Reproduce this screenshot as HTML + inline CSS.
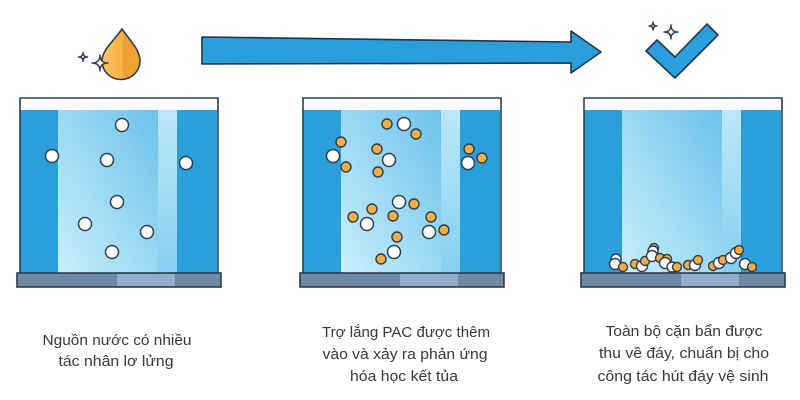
<!DOCTYPE html>
<html>
<head>
<meta charset="utf-8">
<style>
  html,body{margin:0;padding:0;background:#fff;}
  body{width:800px;height:400px;overflow:hidden;}
  svg{display:block;}
  text{font-family:"Liberation Sans","Noto Sans CJK SC",sans-serif;fill:#383838;font-size:15px;}
</style>
</head>
<body>
<svg width="800" height="400" viewBox="0 0 800 400" xmlns="http://www.w3.org/2000/svg">
  <defs>
    <linearGradient id="mid" x1="0" y1="1" x2="1" y2="0">
      <stop offset="0" stop-color="#C9EFFC"/>
      <stop offset="1" stop-color="#6CC2EA"/>
    </linearGradient>
    <linearGradient id="band" x1="0" y1="0" x2="0" y2="1">
      <stop offset="0" stop-color="#BCE8F9"/>
      <stop offset="1" stop-color="#86CFEF"/>
    </linearGradient>
    <linearGradient id="drop" x1="0" y1="0" x2="1" y2="0">
      <stop offset="0" stop-color="#FCC565"/>
      <stop offset="0.55" stop-color="#F7B243"/>
      <stop offset="0.56" stop-color="#EFA133"/>
      <stop offset="1" stop-color="#EFA133"/>
    </linearGradient>
    <g id="tank">
      <rect x="20" y="110" width="38" height="163" fill="#2A9FDA"/>
      <rect x="58" y="110" width="100" height="163" fill="url(#mid)"/>
      <rect x="158" y="110" width="19" height="163" fill="url(#band)"/>
      <rect x="177" y="110" width="40" height="163" fill="#2A9FDA"/>
      <path d="M20,273 L20,98 L218,98 L218,273" fill="none" stroke="#2E3D4F" stroke-width="1.6"/>
      <rect x="17" y="273" width="204" height="14" fill="#6E8AA6" stroke="#2E3D4F" stroke-width="1.6"/>
      <rect x="117" y="274" width="58" height="12" fill="#93AECB"/>
    </g>
  </defs>

  <!-- Arrow -->
  <polygon points="202,37 571,42 571,31 601,52 571,73 571,63 202,64" fill="#2A9FDA" stroke="#1F3550" stroke-width="1.6" stroke-linejoin="round"/>

  <!-- Drop + sparkles -->
  <path d="M122,29 C113,42 102,50 102,61 A19,18.5 0 0 0 140,61 C140,50 131,42 122,29 Z" fill="url(#drop)" stroke="#2E3D4F" stroke-width="1.6"/>
  <path d="M83,52.5 Q83,57 87.5,57 Q83,57 83,61.5 Q83,57 78.5,57 Q83,57 83,52.5 Z" fill="#fff" stroke="#2E3D4F" stroke-width="1.4" stroke-linejoin="round"/>
  <path d="M100,55 Q100,63 108,63 Q100,63 100,71 Q100,63 92,63 Q100,63 100,55 Z" fill="#fff" stroke="#2E3D4F" stroke-width="1.4" stroke-linejoin="round"/>

  <!-- Checkmark + sparkles -->
  <polygon points="646,51 657,40 675,57 707,24 718,35 675,78" fill="#2A9FDA" stroke="#1F3550" stroke-width="1.6" stroke-linejoin="round"/>
  <path d="M653,22 Q653,26 657,26 Q653,26 653,30 Q653,26 649,26 Q653,26 653,22 Z" fill="#fff" stroke="#2E3D4F" stroke-width="1.4" stroke-linejoin="round"/>
  <path d="M671,25 Q671,32 678,32 Q671,32 671,39 Q671,32 664,32 Q671,32 671,25 Z" fill="#fff" stroke="#2E3D4F" stroke-width="1.4" stroke-linejoin="round"/>

  <!-- Tanks -->
  <use href="#tank"/>
  <use href="#tank" transform="translate(283,0)"/>
  <use href="#tank" transform="translate(564,0)"/>

  <!-- Tank 1 bubbles -->
  <g fill="#fff" stroke="#2E3D4F" stroke-width="1.5">
    <circle cx="122" cy="125" r="6.5"/>
    <circle cx="52" cy="156" r="6.5"/>
    <circle cx="107" cy="160" r="6.5"/>
    <circle cx="186" cy="163" r="6.5"/>
    <circle cx="117" cy="202" r="6.5"/>
    <circle cx="85" cy="224" r="6.5"/>
    <circle cx="147" cy="232" r="6.5"/>
    <circle cx="112" cy="252" r="6.5"/>
  </g>

  <!-- Tank 2 particles -->
  <g fill="#F2B044" stroke="#2E3D4F" stroke-width="1.4">
    <circle cx="387" cy="124" r="5"/>
    <circle cx="416" cy="134" r="5"/>
    <circle cx="341" cy="142" r="5"/>
    <circle cx="346" cy="167" r="5"/>
    <circle cx="377" cy="149" r="5"/>
    <circle cx="378" cy="172" r="5"/>
    <circle cx="469" cy="149" r="5"/>
    <circle cx="482" cy="158" r="5"/>
    <circle cx="414" cy="204" r="5"/>
    <circle cx="372" cy="209" r="5"/>
    <circle cx="353" cy="217" r="5"/>
    <circle cx="393" cy="216" r="5"/>
    <circle cx="431" cy="217" r="5"/>
    <circle cx="444" cy="230" r="5"/>
    <circle cx="397" cy="237" r="5"/>
    <circle cx="381" cy="259" r="5"/>
  </g>
  <g fill="#fff" stroke="#2E3D4F" stroke-width="1.5">
    <circle cx="404" cy="124" r="6.5"/>
    <circle cx="333" cy="156" r="6.5"/>
    <circle cx="389" cy="160" r="6.5"/>
    <circle cx="468" cy="163" r="6.5"/>
    <circle cx="399" cy="202" r="6.5"/>
    <circle cx="367" cy="224" r="6.5"/>
    <circle cx="429" cy="232" r="6.5"/>
    <circle cx="394" cy="252" r="6.5"/>
  </g>

  <!-- Tank 3 sediment -->
  <g stroke="#2E3D4F" stroke-width="1.4">
    <circle cx="616" cy="259" r="5" fill="#fff"/>
    <circle cx="615" cy="264" r="5.5" fill="#fff"/>
    <circle cx="623" cy="267" r="4.5" fill="#F2B044"/>
    <circle cx="635" cy="264" r="4.5" fill="#F2B044"/>
    <circle cx="642" cy="266" r="5.5" fill="#fff"/>
    <circle cx="645" cy="261" r="4.5" fill="#F2B044"/>
    <circle cx="654" cy="248" r="4.5" fill="#F2B044"/>
    <circle cx="653" cy="251" r="5" fill="#fff"/>
    <circle cx="652" cy="256" r="5.5" fill="#fff"/>
    <circle cx="660" cy="258" r="4.5" fill="#F2B044"/>
    <circle cx="667" cy="259" r="4.5" fill="#F2B044"/>
    <circle cx="665" cy="263" r="5.5" fill="#fff"/>
    <circle cx="672" cy="267" r="5" fill="#fff"/>
    <circle cx="677" cy="267" r="4.5" fill="#F2B044"/>
    <circle cx="688" cy="265" r="4.5" fill="#F2B044"/>
    <circle cx="695" cy="265" r="5.5" fill="#fff"/>
    <circle cx="698" cy="260" r="4.5" fill="#F2B044"/>
    <circle cx="713" cy="266" r="4.5" fill="#F2B044"/>
    <circle cx="719" cy="263" r="5.5" fill="#fff"/>
    <circle cx="723" cy="260" r="4.5" fill="#F2B044"/>
    <circle cx="731" cy="258" r="5.5" fill="#fff"/>
    <circle cx="736" cy="253" r="5.5" fill="#fff"/>
    <circle cx="739" cy="250" r="4.5" fill="#F2B044"/>
    <circle cx="745" cy="264" r="5.5" fill="#fff"/>
    <circle cx="752" cy="267" r="4.5" fill="#F2B044"/>
  </g>

  <!-- Labels -->
  <text x="117" y="345" text-anchor="middle" textLength="149" lengthAdjust="spacingAndGlyphs">Nguồn nước có nhiều</text>
  <text x="116" y="366" text-anchor="middle" textLength="115" lengthAdjust="spacingAndGlyphs">tác nhân lơ lửng</text>

  <text x="406" y="337" text-anchor="middle" textLength="168" lengthAdjust="spacingAndGlyphs">Trợ lắng PAC được thêm</text>
  <text x="405" y="359" text-anchor="middle" textLength="165" lengthAdjust="spacingAndGlyphs">vào và xảy ra phản ứng</text>
  <text x="404" y="381" text-anchor="middle" textLength="108" lengthAdjust="spacingAndGlyphs">hóa học kết tủa</text>

  <text x="684" y="336" text-anchor="middle" textLength="157" lengthAdjust="spacingAndGlyphs">Toàn bộ cặn bẩn được</text>
  <text x="684" y="358" text-anchor="middle" textLength="170" lengthAdjust="spacingAndGlyphs">thu về đáy, chuẩn bị cho</text>
  <text x="683" y="381" text-anchor="middle" textLength="171" lengthAdjust="spacingAndGlyphs">công tác hút đáy vệ sinh</text>
</svg>
</body>
</html>
